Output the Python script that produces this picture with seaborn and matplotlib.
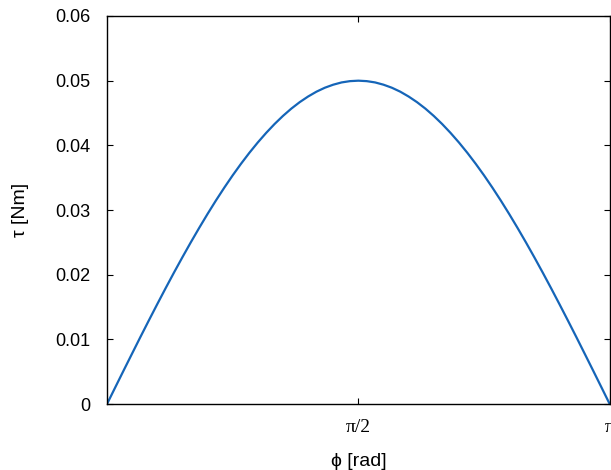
import numpy as np
import pandas as pd
import matplotlib
matplotlib.use("Agg")
import matplotlib.pyplot as plt
import seaborn as sns

# angle samples in degrees (3 deg steps), torque [Nm]
phi_deg = [0, 3, 6, 9, 12, 15, 18, 21, 24, 27, 30, 33, 36, 39, 42, 45, 48, 51,
           54, 57, 60, 63, 66, 69, 72, 75, 78, 81, 84, 87, 90,
           93, 96, 99, 102, 105, 108, 111, 114, 117, 120, 123, 126, 129, 132,
           135, 138, 141, 144, 147, 150, 153, 156, 159, 162, 165, 168, 171,
           174, 177, 180]
tau = [0.0, 0.00262, 0.00523, 0.00782, 0.01040, 0.01294, 0.01545, 0.01792,
       0.02034, 0.02270, 0.02500, 0.02723, 0.02939, 0.03147, 0.03346, 0.03536,
       0.03716, 0.03886, 0.04045, 0.04193, 0.04330, 0.04455, 0.04568, 0.04668,
       0.04755, 0.04830, 0.04891, 0.04938, 0.04973, 0.04993, 0.05,
       0.04993, 0.04973, 0.04938, 0.04891, 0.04830, 0.04755, 0.04668, 0.04568,
       0.04455, 0.04330, 0.04193, 0.04045, 0.03886, 0.03716, 0.03536, 0.03346,
       0.03147, 0.02939, 0.02723, 0.02500, 0.02270, 0.02034, 0.01792, 0.01545,
       0.01294, 0.01040, 0.00782, 0.00523, 0.00262, 0.0]
x_ticks = [np.pi / 2, np.pi]
x_tick_labels = ["\u03c0/2", "\u03c0"]
y_ticks = [0, 0.01, 0.02, 0.03, 0.04, 0.05, 0.06]

df = pd.DataFrame({"phi": np.deg2rad(phi_deg), "tau": tau})

sns.set_style("ticks")
plt.rcParams["font.family"] = ["Liberation Sans", "DejaVu Sans"]
plt.rcParams["text.color"] = "black"
plt.rcParams["axes.labelcolor"] = "black"
plt.rcParams["xtick.color"] = "black"
plt.rcParams["ytick.color"] = "black"
plt.rcParams["axes.edgecolor"] = "black"

fig = plt.figure(figsize=(6.11, 4.7), dpi=100)
ax = fig.add_axes([0.175, 0.14, 0.823, 0.826])
sns.lineplot(data=df, x="phi", y="tau", ax=ax, color="#1565b8", linewidth=1.6)

ax.set_xlim(0, np.pi)
ax.set_ylim(0, 0.06)
ax.set_yticks(y_ticks)
ax.set_yticklabels(["0"] + ["%.2f" % v for v in y_ticks[1:]], fontsize=13)
ax.set_xticks(x_ticks)
ax.set_xticklabels(x_tick_labels, fontsize=14, family=["Liberation Serif", "DejaVu Serif"])
ax.tick_params(direction="in", length=4, width=0.8, top=True, right=True)
ax.tick_params(axis="x", pad=11)
ax.tick_params(axis="y", pad=12)
for s in ax.spines.values():
    s.set_linewidth(1.0)
    s.set_visible(True)

ax.set_xlabel("\u03d5 [rad]", fontsize=14, labelpad=12)
ax.set_ylabel("\u03c4 [Nm]", fontsize=14, labelpad=19)

fig.savefig("out.png", dpi=100)
